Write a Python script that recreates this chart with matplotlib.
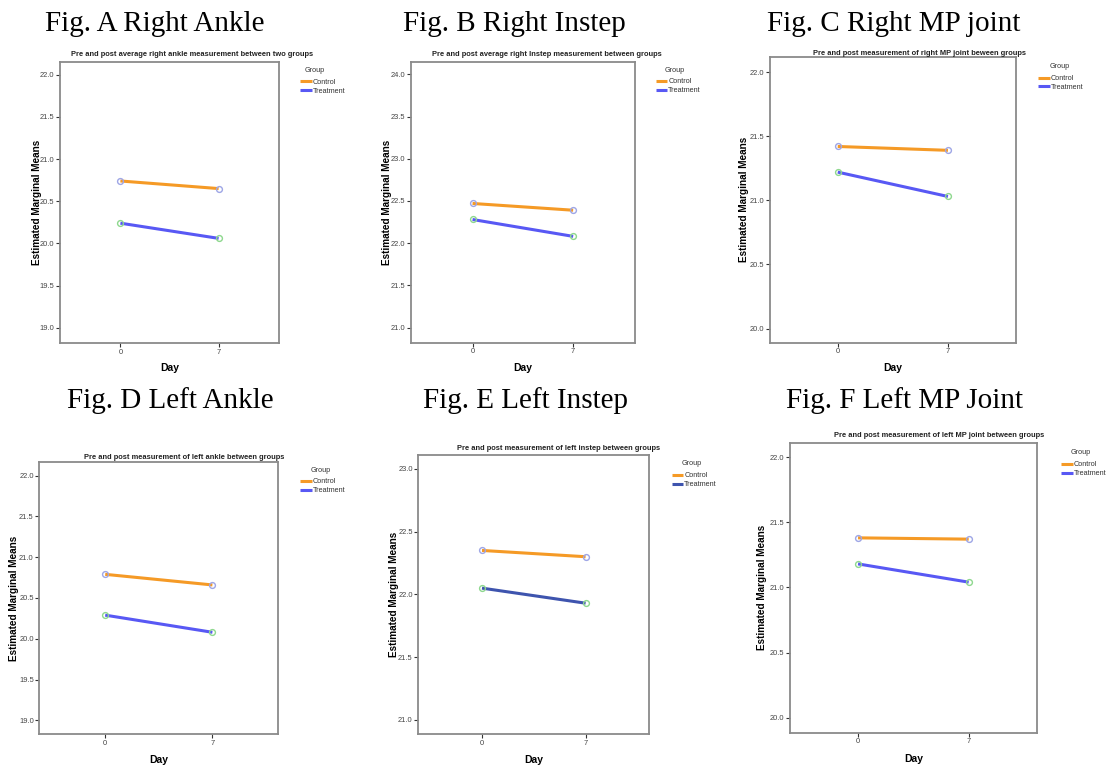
import numpy as np
import matplotlib
matplotlib.use("Agg")
import matplotlib.pyplot as plt

# ---------------- data ----------------
days = ["0", "7"]
groups = ["Control", "Treatment"]
legend_title = "Group"

headings = ["Fig. A Right Ankle", "Fig. B Right Instep", "Fig. C Right MP joint",
            "Fig. D Left Ankle", "Fig. E Left Instep", "Fig. F Left MP Joint"]

titles = ["Pre and post average right ankle measurement between two groups",
          "Pre and post average right Instep measurement between groups",
          "Pre and post measurement of right MP joint beween groups",
          "Pre and post measurement of left ankle between groups",
          "Pre and post measurement of left instep between groups",
          "Pre and post measurement of left MP joint between groups"]

control_a = [20.74, 20.65]
treatment_a = [20.24, 20.06]
control_b = [22.47, 22.39]
treatment_b = [22.28, 22.08]
control_c = [21.42, 21.39]
treatment_c = [21.22, 21.03]
control_d = [20.79, 20.66]
treatment_d = [20.29, 20.08]
control_e = [22.35, 22.30]
treatment_e = [22.05, 21.93]
control_f = [21.38, 21.37]
treatment_f = [21.18, 21.04]

yticks_a = [19.0, 19.5, 20.0, 20.5, 21.0, 21.5, 22.0]
yticks_b = [21.0, 21.5, 22.0, 22.5, 23.0, 23.5, 24.0]
yticks_c = [20.0, 20.5, 21.0, 21.5, 22.0]
yticks_d = [19.0, 19.5, 20.0, 20.5, 21.0, 21.5, 22.0]
yticks_e = [21.0, 21.5, 22.0, 22.5, 23.0]
yticks_f = [20.0, 20.5, 21.0, 21.5, 22.0]

controls = [control_a, control_b, control_c, control_d, control_e, control_f]
treatments = [treatment_a, treatment_b, treatment_c, treatment_d, treatment_e, treatment_f]
yticks_all = [yticks_a, yticks_b, yticks_c, yticks_d, yticks_e, yticks_f]

# ---------------- layout (pixels) ----------------
W, H = 1107, 768
fig = plt.figure(figsize=(W / 100, H / 100), dpi=100)
fig.patch.set_facecolor("white")

# box (left, top, right, bottom), ylim, title center, ylabel center x, Day center y,
# legend handle x / control y, group title center
layout = [
    dict(box=(60, 62, 279, 343), ylim=(18.82, 22.15), title=(192, 55), ylab=37, day=368,
         leg=(300, 83), grp=(315, 71)),
    dict(box=(410.7, 61.7, 635, 342.7), ylim=(20.82, 24.15), title=(546.7, 55), ylab=387.3, day=368,
         leg=(655.7, 82.7), grp=(675, 71)),
    dict(box=(770, 56.7, 1015.7, 342.7), ylim=(19.89, 22.12), title=(919.5, 53.3), ylab=744, day=368,
         leg=(1038, 79.3), grp=(1059.7, 66.7)),
    dict(box=(39.3, 461.7, 278.3, 734.3), ylim=(18.83, 22.17), title=(183.8, 457.7), ylab=14, day=760,
         leg=(300, 482.7), grp=(320.8, 470.7)),
    dict(box=(418.3, 455, 649.3, 734.3), ylim=(20.886, 23.11), title=(558.3, 449), ylab=394, day=760,
         leg=(671.7, 476.7), grp=(691.7, 463.3)),
    dict(box=(790, 442.7, 1036.7, 732.7), ylim=(19.885, 22.11), title=(939, 435.7), ylab=762.3, day=759.3,
         leg=(1061, 465.7), grp=(1081, 452.3)),
]
heading_pos = [(155, 30.7), (514.5, 30.7), (894, 30.7), (170, 408), (525.5, 408), (904, 408)]

narrow = ["Liberation Sans Narrow", "Liberation Sans", "DejaVu Sans"]
sans = ["Liberation Sans", "DejaVu Sans"]
serif = ["Liberation Serif", "DejaVu Serif"]

c_control = "#F59A26"
c_treat = "#5858F4"
c_treat_e = "#3E54AE"
m_control = "#9EA6E6"
m_treat = "#8ED88E"

x = np.arange(len(days))

for i, lay in enumerate(layout):
    l, t, r, b = lay["box"]
    ax = fig.add_axes([l / W, 1 - b / H, (r - l) / W, (b - t) / H])
    ax.set_facecolor("white")
    ct = c_treat_e if i == 4 else c_treat
    ax.plot(x, controls[i], color=c_control, lw=2.2, label=groups[0], solid_capstyle="butt", zorder=3)
    ax.plot(x, treatments[i], color=ct, lw=2.2, label=groups[1], solid_capstyle="butt", zorder=3)
    ax.plot(x, controls[i], ls="none", marker="o", ms=4.2, mfc="none", mec=m_control, mew=1.0, zorder=4)
    ax.plot(x, treatments[i], ls="none", marker="o", ms=4.2, mfc="none", mec=m_treat, mew=1.0, zorder=4)

    ax.set_xlim(-0.615, 1.615)
    ax.set_ylim(*lay["ylim"])
    ax.set_xticks(x, labels=days)
    yt = yticks_all[i]
    ax.set_yticks(yt, labels=[f"{v:.1f}" for v in yt])
    ax.tick_params(axis="both", direction="out", length=3, width=0.8, color="#333333",
                   labelsize=5.4, labelcolor="#444444", pad=1.0)
    for lab in ax.get_xticklabels() + ax.get_yticklabels():
        lab.set_family(narrow)
    for sp in ax.spines.values():
        sp.set_color("#8a8a8a")
        sp.set_linewidth(1.3)

    # y label (centered on given x)
    ax.set_ylabel("Estimated Marginal Means", fontsize=7.2, fontweight="bold", family=sans,
                  va="center")
    ax.yaxis.set_label_coords(-(l - lay["ylab"]) / (r - l), 0.5)
    # x label (centered on given y)
    ax.set_xlabel("Day", fontsize=7.5, fontweight="bold", family=sans, va="center")
    ax.xaxis.set_label_coords(0.5, -(lay["day"] - b) / (b - t))

    # chart title
    tx, ty = lay["title"]
    fig.text(tx / W, 1 - ty / H, titles[i], ha="center", va="center",
             fontsize=5.45, fontweight="bold", family=narrow, color="#222222")

    # legend
    lx, ly = lay["leg"]
    leg = ax.legend(loc="upper left", bbox_to_anchor=(lx / W, 1 - (ly - 4.3) / H),
                    bbox_transform=fig.transFigure, frameon=False, borderpad=0, borderaxespad=0,
                    handlelength=1.6, handletextpad=0.15, labelspacing=0.25,
                    prop={"family": narrow, "size": 5.2})
    for txt in leg.get_texts():
        txt.set_color("#333333")
    gx, gy = lay["grp"]
    fig.text(gx / W, 1 - gy / H, legend_title, ha="center", va="center",
             fontsize=5.2, family=narrow, color="#333333")

# figure headings
for (hx, hy), txt in zip(heading_pos, headings):
    fig.text(hx / W, 1 - hy / H, txt, ha="center", va="baseline",
             fontsize=21, family=serif, color="black")

fig.savefig("out.png", dpi=100, facecolor="white")
